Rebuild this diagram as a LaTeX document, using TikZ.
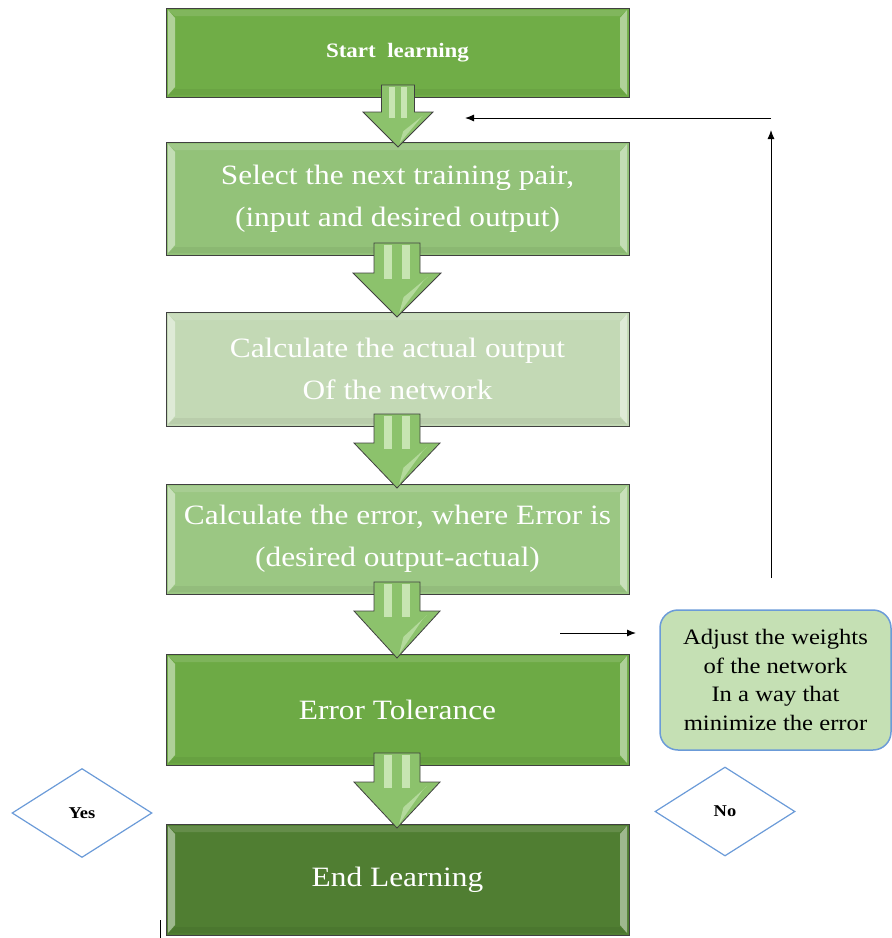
\documentclass[tikz,border=0pt]{standalone}
\usepackage{fontspec}
\setmainfont{Liberation Serif}
\newfontfamily\widefont[FakeStretch=1.12]{Liberation Serif}
\usetikzlibrary{shapes.geometric,arrows.meta,calc}

\definecolor{gA}{HTML}{70AD47}
\definecolor{gB}{HTML}{93C279}
\definecolor{gC}{HTML}{C3D9B5}
\definecolor{gD}{HTML}{9BC783}
\definecolor{gE}{HTML}{6DAA45}
\definecolor{gF}{HTML}{507E32}
\definecolor{arrowfill}{HTML}{8CC26C}
\definecolor{arrowlite}{HTML}{D6EEC4}
\definecolor{edge}{HTML}{404040}
\definecolor{bluedge}{HTML}{6B9BD8}
\definecolor{notefill}{HTML}{C5E0B4}

\tikzset{
  stepbox/.style={draw=edge, line width=1pt, minimum width=463pt, inner sep=0pt,
    text=white, align=center, font=\widefont\fontsize{28}{42}\selectfont,
    path picture={
      \fill[white,opacity=0.45]
        ([xshift=2pt,yshift=-2pt]path picture bounding box.north west) --
        ([xshift=9pt,yshift=-10pt]path picture bounding box.north west) --
        ([xshift=9pt,yshift=10pt]path picture bounding box.south west) --
        ([xshift=2pt,yshift=2pt]path picture bounding box.south west) -- cycle;
      \fill[white,opacity=0.45]
        ([xshift=-2pt,yshift=-2pt]path picture bounding box.north east) --
        ([xshift=-9pt,yshift=-10pt]path picture bounding box.north east) --
        ([xshift=-9pt,yshift=10pt]path picture bounding box.south east) --
        ([xshift=-2pt,yshift=2pt]path picture bounding box.south east) -- cycle;
      \fill[white,opacity=0.12]
        ([xshift=2pt,yshift=-2pt]path picture bounding box.north west) --
        ([xshift=-2pt,yshift=-2pt]path picture bounding box.north east) --
        ([xshift=-9pt,yshift=-8pt]path picture bounding box.north east) --
        ([xshift=9pt,yshift=-8pt]path picture bounding box.north west) -- cycle;
      \fill[black,opacity=0.05]
        ([xshift=2pt,yshift=2pt]path picture bounding box.south west) --
        ([xshift=-2pt,yshift=2pt]path picture bounding box.south east) --
        ([xshift=-9pt,yshift=8pt]path picture bounding box.south east) --
        ([xshift=9pt,yshift=8pt]path picture bounding box.south west) -- cycle;
    }},
  choice/.style={diamond, draw=bluedge, line width=1.2pt, inner sep=0pt,
    minimum width=140pt, minimum height=89pt, font=\widefont\bfseries\fontsize{16.5}{18}\selectfont},
  notebox/.style={draw=bluedge, line width=1.5pt, fill=notefill, rounded corners=18pt,
    align=center, inner sep=0pt, font=\widefont\fontsize{22}{28.5}\selectfont},
  link/.style={line width=1pt, -{Latex[length=9pt,width=7pt]}},
  blockarrow/.style={fill=arrowfill, draw=edge, line width=0.8pt, line join=miter},
}

% Block arrow from the bottom of one box to the top of the next
\newcommand{\blockdown}[6]{% #1 x, #2 shaft top, #3 head base, #4 tip, #5 shaft half width, #6 head half width
  \path[blockarrow] (#1-#5,#2) -- (#1+#5,#2) -- (#1+#5,#3) -- (#1+#6,#3) -- (#1,#4)
     -- (#1-#6,#3) -- (#1-#5,#3) -- cycle;
  \fill[arrowlite,opacity=0.8] (#1-0.55*#5,#2+2) rectangle (#1-0.2*#5,#3+6);
  \fill[arrowlite,opacity=0.8] (#1+0.2*#5,#2+2) rectangle (#1+0.55*#5,#3+6);
  \fill[arrowlite,opacity=0.55] (#1+0.15*#6,#3+0.55*#4-0.55*#3) -- (#1+0.7*#6,#3+4) -- (#1+0.6*#6,#3+8) -- (#1+0.05*#6,#4-4) -- cycle;
}

\begin{document}
\begin{tikzpicture}[x=1pt,y=-1pt]
  \useasboundingbox (0,0) rectangle (892,938);

  % process steps
  \node[stepbox, fill=gA, minimum height=89pt, font=\widefont\bfseries\fontsize{20.5}{24}\selectfont]
    (start) at (397.5,52.5) {Start\ \ learning};
  \node[stepbox, fill=gB, minimum height=113pt] (select) at (397.5,198.5)
    {Select the next training pair,\\(input and desired output)};
  \node[stepbox, fill=gC, minimum height=114pt] (actual) at (397.5,369)
    {Calculate the actual output\\Of the network};
  \node[stepbox, fill=gD, minimum height=110pt] (error) at (397.5,539)
    {Calculate the error, where Error is\\(desired output-actual)};
  \node[stepbox, fill=gE, minimum height=111pt] (tol) at (397.5,709.5)
    {Error Tolerance};
  \node[stepbox, fill=gF, minimum height=111pt] (finish) at (397.5,879.5)
    {End Learning};

  % block arrows between the steps
  \blockdown{398}{85}{112}{147}{16.5}{35}
  \blockdown{397}{243}{273}{317}{23}{44}
  \blockdown{397}{414}{443}{488}{23}{43}
  \blockdown{397}{582}{611}{658}{23}{43}
  \blockdown{397}{753}{782}{828}{23}{43}

  % decisions
  \node[choice] (yes) at (82,813) {Yes};
  \node[choice] (no) at (725,811.5) {No};

  % weight update
  \node[notebox, minimum width=231pt, minimum height=140pt] (adjust) at (775.5,680)
    {Adjust the weights\\of the network\\In a way that\\minimize the error};

  % feedback path
  \coordinate (tolout) at (560,633);
  \coordinate (adjin) at (636,633);
  \coordinate (upfrom) at (771,578);
  \coordinate (upto) at (771,130);
  \coordinate (backfrom) at (771,118);
  \coordinate (backto) at (465,118);
  \draw[link] (tolout) -- (adjin);
  \draw[link] (upfrom) -- (upto);
  \draw[link] (backfrom) -- (backto);

  % small tick at the lower left
  \coordinate (tickA) at (160,920);
  \coordinate (tickB) at (160,938);
  \draw[line width=1pt] (tickA) -- (tickB);
\end{tikzpicture}
\end{document}
